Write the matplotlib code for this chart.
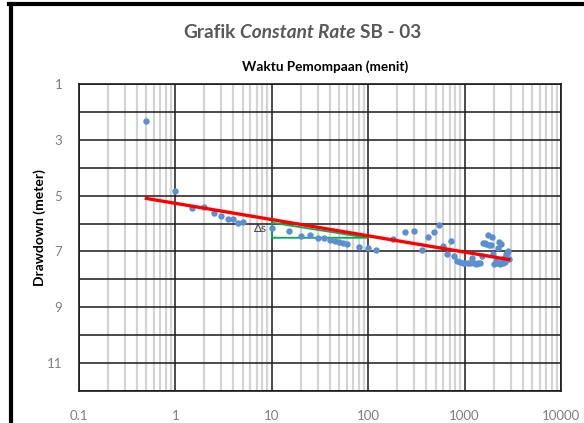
import numpy as np
import matplotlib
matplotlib.use("Agg")
import matplotlib.pyplot as plt
from matplotlib.ticker import LogLocator, NullFormatter, FixedLocator
from matplotlib.lines import Line2D

plt.rcParams['font.family'] = ['Lato', 'DejaVu Sans']

# data
waktu = [0.5, 1, 1.5, 2, 2.5, 3, 3.5, 4, 4.5, 5, 10, 15, 20, 25, 30, 35, 40, 45,
         50, 55, 60, 80, 100, 120, 180, 240, 300, 360, 420, 480, 540, 600, 660,
         720, 780, 840, 900, 960, 1020, 1080, 1140, 1200, 1260, 1320, 1380, 1440,
         1500, 1560, 1620, 1680, 1740, 1800, 1860, 1920, 1980, 2040, 2100, 2160,
         2220, 2280, 2340, 2400, 2460, 2520, 2580, 2640, 2700, 2760, 2820, 2880]
drawdown = [2.34, 4.85, 5.45, 5.39, 5.61, 5.72, 5.83, 5.83, 5.97, 5.95, 6.16,
            6.27, 6.44, 6.42, 6.50, 6.52, 6.58, 6.63, 6.66, 6.69, 6.73, 6.84,
            6.89, 6.96, 6.57, 6.31, 6.28, 6.93, 6.49, 6.31, 6.04, 6.80, 7.08,
            6.63, 7.15, 7.35, 7.36, 7.40, 7.42, 7.43, 7.40, 7.23, 7.43, 7.45,
            7.43, 7.42, 7.18, 6.68, 6.70, 6.74, 6.42, 6.76, 6.78, 6.48, 7.08,
            7.44, 7.34, 7.40, 6.86, 6.66, 7.44, 6.72, 7.30, 7.41, 7.22, 7.36,
            7.10, 7.05, 6.98, 7.28]

# garis trend (Cooper-Jacob)
trend_t = [0.5, 2880]
trend_s = [5.10, 7.29]

# segitiga delta s
seg_t = [10, 10, 100, 10]
seg_s = [5.97, 6.51, 6.51, 5.97]

xticks = [0.1, 1, 10, 100, 1000, 10000]
xlabels = ['0.1', '1', '10', '100', '1000', '10000']
yticks = list(range(1, 13))
ylabels = [str(v) if v % 2 == 1 else '' for v in yticks]

W, H = 584, 423
fig = plt.figure(figsize=(W / 100, H / 100), dpi=100)
ax = fig.add_axes([79 / W, 1 - 391 / H, 482 / W, 307 / H])

ax.set_xscale('log')
ax.set_xlim(0.1, 10000)
ax.set_ylim(12, 1)
ax.xaxis.set_major_locator(FixedLocator(xticks))
ax.set_xticklabels(xlabels)
ax.xaxis.set_minor_locator(LogLocator(base=10, subs=np.arange(2, 10)))
ax.xaxis.set_minor_formatter(NullFormatter())
ax.set_yticks(yticks)
ax.set_yticklabels(ylabels)
ax.tick_params(which='both', length=0, labelsize=9.5, colors='#7f7f7f')
ax.tick_params(axis='x', pad=14)
ax.tick_params(axis='y', pad=12)

ax.set_axisbelow(True)
ax.grid(which='minor', axis='x', color='#d4d4d4', lw=1.6)
ax.grid(which='major', color='#1a1a1a', lw=1.1)
for sp in ax.spines.values():
    sp.set_color('#1a1a1a')
    sp.set_linewidth(1.2)

ax.plot(seg_t, seg_s, color='#00b050', lw=1.3, zorder=3)
ax.plot(waktu, drawdown, 'o', color='#5b8fd0', ms=4.6, mec='none', zorder=4)
ax.plot(trend_t, trend_s, color='#ff0000', lw=2.4, zorder=5)
ax.text(8.8, 6.17, 'Δs', fontsize=8.5, color='#404040', ha='right', va='center')

ax.text(0.51, 1.035, 'Waktu Pemompaan (menit)', transform=ax.transAxes,
        ha='center', va='bottom', fontsize=9.8, fontweight='bold', color='black')
fig.text(40 / W, 1 - 228 / H, 'Drawdown (meter)', rotation=90, ha='center',
         va='center', fontsize=10, fontweight='bold', color='black')

# judul dengan bagian miring
renderer = fig.canvas.get_renderer()
parts = [('Grafik', 'normal'), ('Constant Rate', 'italic'), ('SB - 03', 'normal')]
ty = 1 - 32 / H
txts = [fig.text(0, ty, s, style=st, fontsize=13.7, fontweight='bold',
                 color='#595959', va='center') for s, st in parts]
gap = 4.5
widths = [t.get_window_extent(renderer).width for t in txts]
x0 = 302 - (sum(widths) + gap * (len(parts) - 1)) / 2
for t, w in zip(txts, widths):
    t.set_x(x0 / W)
    x0 += w + gap

# bingkai hitam kiri dan atas
fig.add_artist(Line2D([10.5 / W, 10.5 / W], [0, 1 - 4 / H], color='black', lw=3))
fig.add_artist(Line2D([9 / W, 1], [1 - 4 / H, 1 - 4 / H], color='black', lw=3))

fig.savefig('out.png', dpi=100)
